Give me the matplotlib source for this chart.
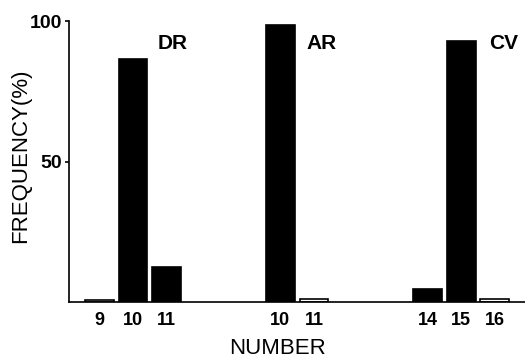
import matplotlib
matplotlib.use("Agg")
import matplotlib.pyplot as plt

# Data
positions = [0, 1, 2, 5.4, 6.4, 9.8, 10.8, 11.8]
tick_labels = ["9", "10", "11", "10", "11", "14", "15", "16"]
frequency = [0.8, 86.3, 12.3, 98.5, 1.0, 4.6, 93.0, 1.0]
group_names = ["DR", "AR", "CV"]
group_label_x = [1.74, 6.19, 11.63]

plt.rcParams['font.family'] = ['Liberation Sans', 'DejaVu Sans']

fig = plt.figure(figsize=(5.25, 3.59), dpi=100)
ax = fig.add_axes([69/525, 1-302/359, 1-69/525, (302-21)/359])

colors = ['white' if v < 2 else 'black' for v in frequency]
ax.bar(positions, frequency, width=0.86, color=colors, edgecolor='black', linewidth=1.2)

ax.set_xlim(-0.91, 12.7)
ax.set_ylim(0, 100)
ax.spines['top'].set_visible(False)
ax.spines['right'].set_visible(False)
ax.spines['left'].set_linewidth(1.2)
ax.spines['bottom'].set_linewidth(1.2)

ax.set_yticks([50, 100])
ax.set_yticklabels(["50", "100"], fontsize=14, fontweight='bold')
ax.tick_params(axis='y', length=3, width=1.2, pad=2)
ax.set_xticks(positions)
ax.set_xticklabels(tick_labels, fontsize=13, fontweight='bold')
ax.tick_params(axis='x', length=0, pad=7)

for name, gx in zip(group_names, group_label_x):
    ax.text(gx, 92, name, fontsize=15, fontweight='bold', ha='left', va='center')

ax.set_xlabel("NUMBER", fontsize=16)
ax.set_ylabel("FREQUENCY(%)", fontsize=16)
ax.xaxis.set_label_coords(0.458, -0.167)
ax.yaxis.set_label_coords(-0.107, 0.52)
ax.xaxis.label.set_va('center')
ax.yaxis.label.set_va('center')

fig.savefig("out.png", dpi=100)
